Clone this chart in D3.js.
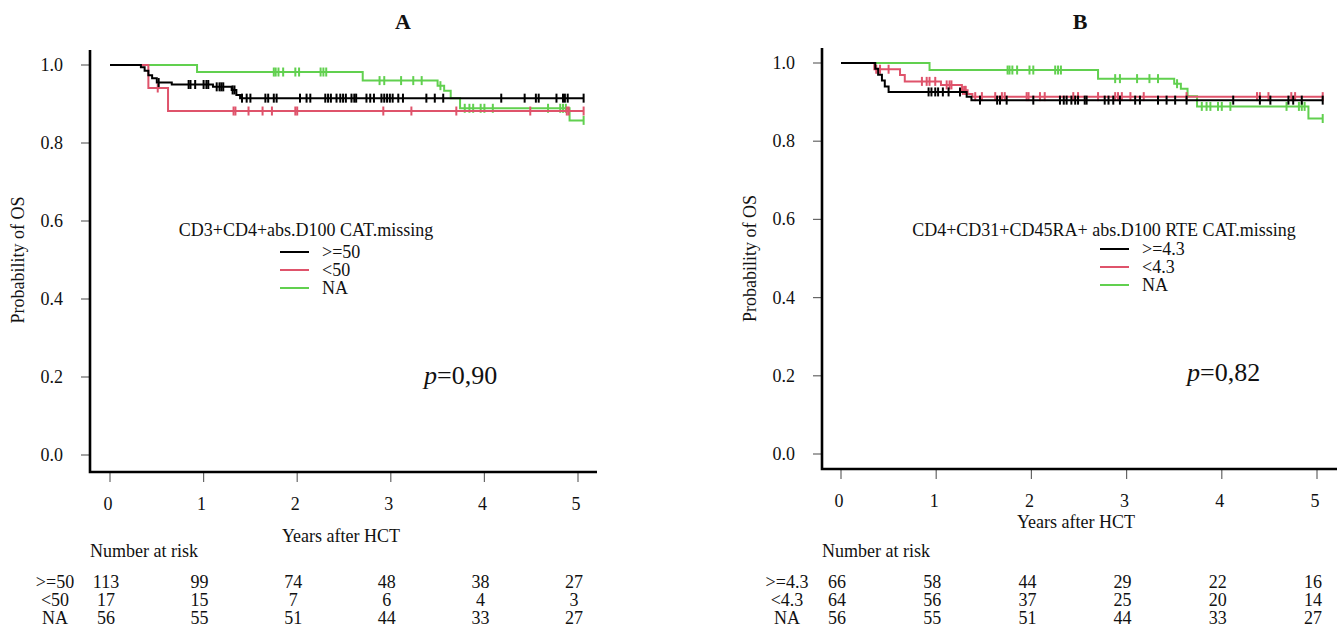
<!DOCTYPE html>
<html>
<head>
<meta charset="utf-8">
<script src="https://cdn.jsdelivr.net/npm/d3@7"></script>
<style>
  body { margin: 0; background: #fff; }
  svg text { font-family: "Liberation Serif", "DejaVu Serif", serif; fill: #111; }
</style>
</head>
<body>
<div id="chart"></div>
<script>
// ticks
var xTicks = [0, 1, 2, 3, 4, 5];
var yTicks = [0, 0.2, 0.4, 0.6, 0.8, 1.0];
var tEnd = 5.06;

// NA group (same patients in both panels)
var naSteps = [[0, 1], [0.93, 0.982], [2.70, 0.960], [3.50, 0.947], [3.57, 0.934], [3.64, 0.915], [3.74, 0.889], [4.91, 0.858]];
var naCens = [1.75, 1.77, 1.80, 1.85, 1.98, 2.02, 2.25, 2.28, 2.31, 2.88, 2.93, 3.11, 3.24, 3.33, 3.53, 3.79, 3.84, 3.88, 3.96, 4.00, 4.09, 4.68, 4.81, 4.84, 4.87, 5.06];
var naRisk = [56, 55, 51, 44, 33, 27];

// panel A : CD3+CD4+ abs D100
var aHiSteps = [[0, 1], [0.33, 0.994], [0.37, 0.985], [0.41, 0.974], [0.45, 0.966], [0.50, 0.955], [0.66, 0.950], [1.10, 0.944], [1.30, 0.936], [1.35, 0.923], [1.39, 0.915]];
var aHiCens = [0.52, 0.84, 0.86, 0.91, 1.00, 1.03, 1.05, 1.14, 1.17, 1.19, 1.21, 1.31, 1.33,
  1.41, 1.46, 1.50, 1.66, 1.69, 1.75, 1.78, 2.03, 2.10, 2.14, 2.30, 2.33, 2.36, 2.42, 2.46, 2.49, 2.52,
  2.58, 2.61, 2.63, 2.74, 2.78, 2.82, 2.90, 2.93, 2.96, 2.99, 3.02, 3.08, 3.13, 3.38, 3.47, 3.56,
  4.18, 4.43, 4.55, 4.58, 4.77, 4.84, 4.86, 4.89, 5.06];
var aLoSteps = [[0, 1], [0.41, 0.941], [0.62, 0.882]];
var aLoCens = [0.51, 1.32, 1.34, 1.48, 1.63, 1.73, 1.98, 2.00, 2.92, 3.22, 3.70, 4.49, 4.88, 4.90, 5.06];
var aHiRisk = [113, 99, 74, 48, 38, 27];
var aLoRisk = [17, 15, 7, 6, 4, 3];
var aGroups = [">=50", "<50", "NA"];

// panel B : CD4+CD31+CD45RA+ RTE
var bHiSteps = [[0, 1], [0.36, 0.985], [0.39, 0.970], [0.43, 0.955], [0.46, 0.940], [0.50, 0.926], [1.32, 0.914], [1.37, 0.905]];
var bHiCens = [0.92, 0.95, 0.99, 1.02, 1.07, 1.13, 1.25, 1.46, 1.64, 1.67, 1.74, 2.02, 2.30, 2.34, 2.37, 2.42, 2.46, 2.49,
  2.56, 2.58, 2.77, 2.81, 2.86, 2.93, 3.09, 3.14, 3.33, 3.42, 3.51, 3.63, 4.12, 4.40, 4.51, 4.70, 4.75, 4.84, 5.06];
var bLoSteps = [[0, 1], [0.35, 0.984], [0.62, 0.969], [0.67, 0.953], [1.05, 0.944], [1.27, 0.930], [1.33, 0.921], [1.38, 0.914]];
var bLoCens = [0.37, 0.41, 0.50, 0.85, 0.90, 0.93, 0.99, 1.11, 1.14, 1.16, 1.28, 1.30, 1.31, 1.41, 1.48, 1.62, 1.69, 1.72,
  1.95, 1.97, 2.09, 2.14, 2.44, 2.49, 2.70, 2.88, 2.91, 2.95, 3.04, 3.18, 3.63, 4.37, 4.40, 4.49, 4.73, 4.77, 5.06];
var bHiRisk = [66, 58, 44, 29, 22, 16];
var bLoRisk = [64, 56, 37, 25, 20, 14];
var bGroups = [">=4.3", "<4.3", "NA"];

var colors = ["#000000", "#DF536B", "#61D04F"];

var panels = [
  { title: "A", titleX: 403, axisX: 90, axisY: 472, axisTop: 50, axisRight: 597,
    xr: [110, 578], yr: [455, 65], yLabX: 18, yearsY: 536,
    legTitle: "CD3+CD4+abs.D100 CAT.missing", legTitleX: 306, legX: 280, legY: 252,
    pText: "=0,90", pX: 424, pY: 384, groupX: 55,
    groups: aGroups,
    series: [[aHiSteps, aHiCens], [aLoSteps, aLoCens], [naSteps, naCens]],
    risk: [aHiRisk, aLoRisk, naRisk] },
  { title: "B", titleX: 1080, axisX: 822, axisY: 469, axisTop: 48, axisRight: 1337,
    xr: [841, 1317], yr: [454, 63], yLabX: 750, yearsY: 522,
    legTitle: "CD4+CD31+CD45RA+ abs.D100 RTE CAT.missing", legTitleX: 1104, legX: 1100, legY: 249,
    pText: "=0,82", pX: 1187, pY: 381, groupX: 787,
    groups: bGroups,
    series: [[bHiSteps, bHiCens], [bLoSteps, bLoCens], [naSteps, naCens]],
    risk: [bHiRisk, bLoRisk, naRisk] }
];

var svg = d3.select("#chart").append("svg")
  .attr("width", 1344).attr("height", 630)
  .style("background", "#fff");

function survAt(steps, t) {
  var s = steps[0][1];
  steps.forEach(function (d) { if (d[0] <= t) s = d[1]; });
  return s;
}

panels.forEach(function (p) {
  var x = d3.scaleLinear().domain([0, 5]).range(p.xr);
  var y = d3.scaleLinear().domain([0, 1]).range(p.yr);
  var g = svg.append("g");

  // title
  g.append("text").attr("x", p.titleX).attr("y", 29).attr("text-anchor", "middle")
    .style("font-size", "22px").style("font-weight", "bold").text(p.title);

  // ticks
  g.selectAll(".yt").data(yTicks).enter().append("line")
    .attr("x1", p.axisX - 9).attr("x2", p.axisX)
    .attr("y1", function (d) { return y(d); }).attr("y2", function (d) { return y(d); })
    .attr("stroke", "#666").attr("stroke-width", 1.2);
  g.selectAll(".ytl").data(yTicks).enter().append("text")
    .attr("x", p.axisX - 27).attr("y", function (d) { return y(d) + 6; })
    .attr("text-anchor", "end").style("font-size", "18px")
    .text(function (d) { return d3.format(".1f")(d); });
  g.selectAll(".xt").data(xTicks).enter().append("line")
    .attr("x1", function (d) { return x(d); }).attr("x2", function (d) { return x(d); })
    .attr("y1", p.axisY).attr("y2", p.axisY + 10)
    .attr("stroke", "#666").attr("stroke-width", 1.2);
  g.selectAll(".xtl").data(xTicks).enter().append("text")
    .attr("x", function (d) { return x(d) - 2; }).attr("y", p.axisY + 38)
    .attr("text-anchor", "middle").style("font-size", "18px")
    .text(function (d) { return d; });

  // L-shaped axes
  g.append("path")
    .attr("d", "M" + p.axisX + "," + p.axisTop + "V" + p.axisY + "H" + p.axisRight)
    .attr("fill", "none").attr("stroke", "#000").attr("stroke-width", 2.6);

  // axis titles
  g.append("text").attr("transform", "translate(" + (p.yLabX + 6) + "," + ((p.yr[0] + p.yr[1]) / 2) + ") rotate(-90)")
    .attr("text-anchor", "middle").style("font-size", "18px").text("Probability of OS");
  g.append("text").attr("x", (p.xr[0] + p.xr[1]) / 2 - 3).attr("y", p.yearsY + 6)
    .attr("text-anchor", "middle").style("font-size", "18px").text("Years after HCT");

  // curves
  var line = d3.line().x(function (d) { return x(d[0]); }).y(function (d) { return y(d[1]); })
    .curve(d3.curveStepAfter);
  // draw NA first, then <, then >= on top
  [2, 1, 0].forEach(function (i) {
    var steps = p.series[i][0], cens = p.series[i][1];
    var pts = steps.concat([[tEnd, steps[steps.length - 1][1]]]);
    g.append("path").datum(pts).attr("d", line)
      .attr("fill", "none").attr("stroke", colors[i]).attr("stroke-width", 2);
    g.selectAll(".c" + i).data(cens).enter().append("line")
      .attr("x1", function (d) { return x(d); }).attr("x2", function (d) { return x(d); })
      .attr("y1", function (d) { return y(survAt(steps, d)) - 4.5; })
      .attr("y2", function (d) { return y(survAt(steps, d)) + 4.5; })
      .attr("stroke", colors[i]).attr("stroke-width", 2);
  });

  // legend
  g.append("text").attr("x", p.legTitleX).attr("y", 236).attr("text-anchor", "middle")
    .style("font-size", "18px").text(p.legTitle);
  p.groups.forEach(function (name, i) {
    var ly = p.legY + i * 18;
    g.append("line").attr("x1", p.legX).attr("x2", p.legX + 29)
      .attr("y1", ly).attr("y2", ly).attr("stroke", colors[i]).attr("stroke-width", 2);
    g.append("text").attr("x", p.legX + 42).attr("y", ly + 6)
      .style("font-size", "18px").text(name);
  });

  // p-value
  var pt = g.append("text").attr("x", p.pX).attr("y", p.pY).style("font-size", "26px");
  pt.append("tspan").style("font-style", "italic").text("p");
  pt.append("tspan").text(p.pText);

  // number at risk table
  g.append("text").attr("x", p.axisX).attr("y", 557).style("font-size", "18px").text("Number at risk");
  p.groups.forEach(function (name, i) {
    var ry = 588 + i * 18;
    g.append("text").attr("x", p.groupX).attr("y", ry).attr("text-anchor", "middle")
      .style("font-size", "18px").text(name);
    g.selectAll(".r" + i).data(p.risk[i]).enter().append("text")
      .attr("x", function (d, j) { return x(xTicks[j]) - 4; }).attr("y", ry)
      .attr("text-anchor", "middle").style("font-size", "18px")
      .text(function (d) { return d; });
  });
});
</script>
</body>
</html>
